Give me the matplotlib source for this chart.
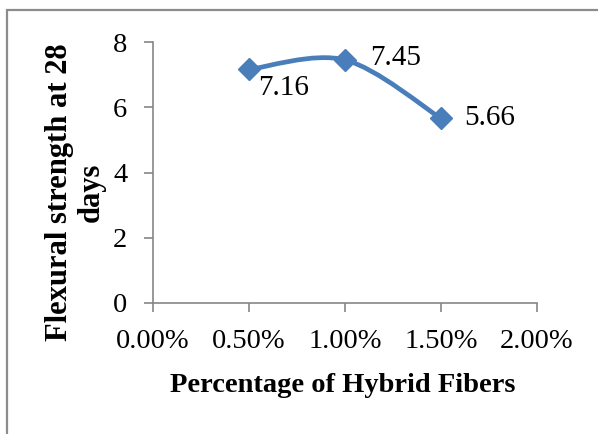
import matplotlib

matplotlib.use("Agg")
import matplotlib.pyplot as plt
from matplotlib.patches import PathPatch, Rectangle
from matplotlib.path import Path
from matplotlib.ticker import FuncFormatter

fiber_pct = [0.5, 1.0, 1.5]
flexural = [7.16, 7.45, 5.66]
value_labels = ["7.16", "7.45", "5.66"]
label_offsets = [(6.5, -13.5), (18, 1.5), (16.5, 0)]  # points, relative to the marker

blue = "#4a7ebb"
grey = "#868686"

plt.rcParams["font.family"] = ["Liberation Serif", "DejaVu Serif"]

W, H = 598, 434
fig = plt.figure(figsize=(W / 100, H / 100), dpi=100)
# chart-area border, cut off at the right and bottom like the source
fig.patches.append(
    Rectangle((6.5 / W, -0.1), 1.2, 1.1 - 10 / H, transform=fig.transFigure,
              fill=False, edgecolor="#8c8c8c", linewidth=1.6)
)
ax = fig.add_axes([153 / W, 1 - 303 / H, 384 / W, 261 / H])


def smooth_path(xs, ys):
    # Excel-like smoothed line: cubic Bezier segments with Catmull-Rom handles
    pts = list(zip(xs, ys))
    verts = [pts[0]]
    codes = [Path.MOVETO]
    n = len(pts)
    for i in range(n - 1):
        p0 = pts[max(i - 1, 0)]
        p1 = pts[i]
        p2 = pts[i + 1]
        p3 = pts[min(i + 2, n - 1)]
        c1 = (p1[0] + (p2[0] - p0[0]) / 6, p1[1] + (p2[1] - p0[1]) / 6)
        c2 = (p2[0] - (p3[0] - p1[0]) / 6, p2[1] - (p3[1] - p1[1]) / 6)
        verts += [c1, c2, p2]
        codes += [Path.CURVE4] * 3
    return Path(verts, codes)


ax.add_patch(PathPatch(smooth_path(fiber_pct, flexural), fill=False,
                       edgecolor=blue, linewidth=3.4, capstyle="round", zorder=2))
ax.plot(fiber_pct, flexural, linestyle="none", marker="D", markersize=11.5,
        color=blue, markeredgecolor=blue, zorder=3)

for x, y, text, (dx, dy) in zip(fiber_pct, flexural, value_labels, label_offsets):
    ax.annotate(text, (x, y), xytext=(dx, dy), textcoords="offset points",
                ha="left", va="center", fontsize=21)

ax.set_xlim(0, 2.0)
ax.set_ylim(0, 8)
ax.set_xticks([0, 0.5, 1.0, 1.5, 2.0])
ax.set_yticks([0, 2, 4, 6, 8])
ax.xaxis.set_major_formatter(FuncFormatter(lambda v, _: f"{v:.2f}%"))

for side in ("top", "right"):
    ax.spines[side].set_visible(False)
for side in ("left", "bottom"):
    ax.spines[side].set_color(grey)
    ax.spines[side].set_linewidth(1.2)
ax.tick_params(axis="both", direction="out", length=6.5, width=1.2, color=grey,
               labelsize=20.5)
ax.tick_params(axis="x", pad=12)
ax.tick_params(axis="y", pad=12)

fig.text(343 / W, 1 - 392 / H, "Percentage of Hybrid Fibers", fontsize=20.5,
         fontweight="bold", ha="center", va="baseline")
fig.text(75.5 / W, 1 - 192 / H, "Flexural strength at 28\ndays", fontsize=22,
         fontweight="bold", rotation=90, ha="center", va="center",
         multialignment="center", linespacing=1.15)

fig.savefig("out.png", dpi=100)
